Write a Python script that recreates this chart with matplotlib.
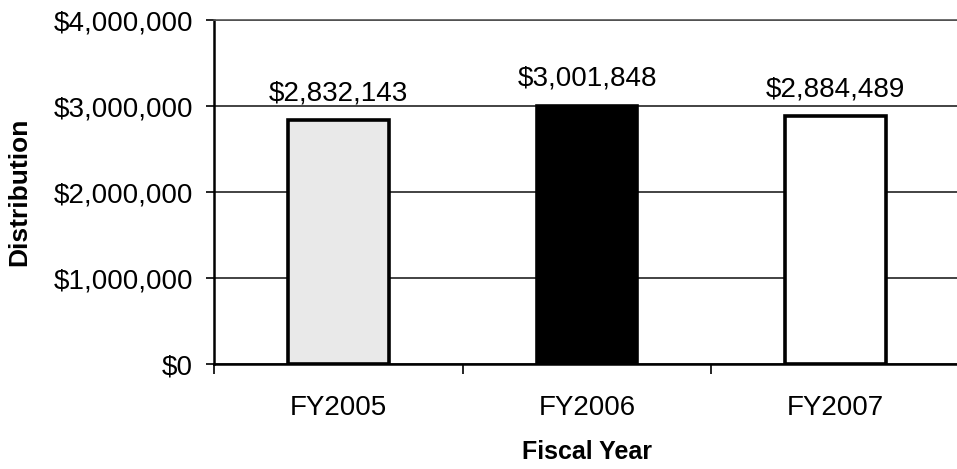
import matplotlib
matplotlib.use("Agg")
import matplotlib.pyplot as plt
from matplotlib.ticker import FuncFormatter

years = ["FY2005", "FY2006", "FY2007"]
distribution = [2832143, 3001848, 2884489]
bar_colors = ["#e9e9e9", "#000000", "#ffffff"]

plt.rcParams["font.family"] = ["Liberation Sans", "DejaVu Sans"]

fig = plt.figure(figsize=(9.57, 4.69), dpi=100)
ax = fig.add_axes([214 / 957, 105 / 469, 746 / 957, 344 / 469])

x = range(len(years))
bars = ax.bar(x, distribution, width=0.405, color=bar_colors,
              edgecolor="black", linewidth=2.6, zorder=3)

for xi, v in zip(x, distribution):
    ax.annotate(f"${v:,.0f}", (xi, v), xytext=(0, 10), textcoords="offset points",
                ha="center", va="bottom", fontsize=20)

ax.set_xlim(-0.5, 2.5)
ax.set_ylim(0, 4000000)
ax.set_yticks([0, 1000000, 2000000, 3000000, 4000000])
ax.yaxis.set_major_formatter(FuncFormatter(lambda v, p: f"${v:,.0f}"))
ax.tick_params(axis="y", labelsize=20, length=6, width=1.2, pad=9, direction="out")

ax.set_xticks(list(x))
ax.set_xticklabels(years)
ax.set_xticks([-0.5, 0.5, 1.5, 2.5], minor=True)
ax.tick_params(axis="x", which="major", length=0, labelsize=20, pad=22)
ax.tick_params(axis="x", which="minor", length=7, width=1.2, direction="out")

ax.yaxis.grid(True, color="#222222", linewidth=1.2, zorder=0)
ax.set_axisbelow(True)

ax.spines["left"].set_linewidth(1.8)
ax.spines["bottom"].set_linewidth(1.8)
ax.spines["top"].set_linestyle((0, (2, 1)))
ax.spines["top"].set_color("#555555")
ax.spines["top"].set_linewidth(1.2)
ax.spines["right"].set_visible(False)

ax.set_ylabel("Distribution", fontsize=19, fontweight="bold", labelpad=16)
ax.set_xlabel("Fiscal Year", fontsize=18, fontweight="bold", labelpad=14)

fig.savefig("out.png", dpi=100)
